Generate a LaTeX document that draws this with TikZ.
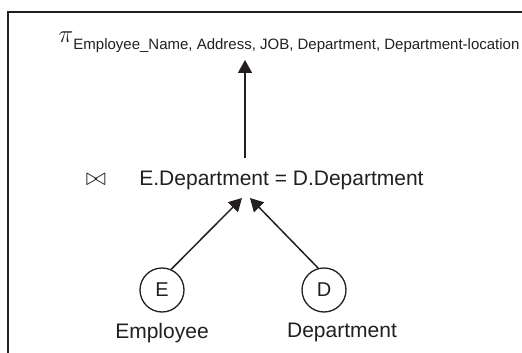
\documentclass[tikz,border=0pt]{standalone}
\usepackage{fontspec}
\setmainfont{Liberation Sans}
\usepackage{amsmath}
\usetikzlibrary{arrows.meta, positioning}
\definecolor{myink}{RGB}{35,31,32}
\tikzset{
  relnode/.style={circle, draw=myink, minimum size=44pt, inner sep=0pt,
    font=\fontsize{20}{24}\selectfont, text=myink, line width=1.3pt},
  rellabel/.style={inner sep=0pt, font=\fontsize{21}{25}\selectfont, text=myink},
  arrow/.style={-{Triangle[length=13pt,width=14pt]}, line width=1.5pt, color=myink},
  frame/.style={line width=1.6pt, color=myink}
}

\begin{document}
\begin{tikzpicture}[x=1pt, y=-1pt]
  \useasboundingbox (0,0) rectangle (522,353);
  \draw[frame] (8,353) -- (8,12) -- (522,12);

  \node[rellabel, anchor=base west, font=\fontsize{24.88}{30}\selectfont] (proj) at (58.5,43) {$\pi$\raisebox{-6pt}{\fontsize{15}{18}\selectfont Employee\_Name, Address, JOB, Department, Department-location}};
  \node[rellabel, anchor=base] (join) at (281.5,185) {E.Department = D.Department};
  \node[rellabel, base left=33pt of join, font=\fontsize{24.88}{30}\selectfont] (bowtie) {$\bowtie$};

  \node[relnode] (emp) at (162,290) {E};
  \node[relnode] (dept) at (324,290) {D};
  \node[rellabel, below=10pt of emp] (emplab) {Employee};
  \node[rellabel, below=10pt of dept, xshift=18pt] (deptlab) {Department};

  \coordinate (jtop) at (245,158);
  \coordinate (ptip) at (245,60);
  \coordinate (jl) at (242,198);
  \coordinate (jr) at (250,198);

  \draw[arrow] (jtop) -- (ptip);
  \draw[arrow] (emp.66) -- (jl);
  \draw[arrow] (dept.105) -- (jr);
\end{tikzpicture}
\end{document}
